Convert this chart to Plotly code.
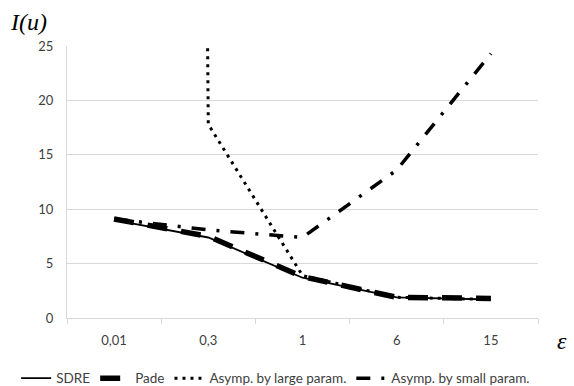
import plotly.graph_objects as go

# Category axis (epsilon values) and the performance index I(u) for each method
eps_labels = ["0,01", "0,3", "1", "6", "15"]
sdre = [9.0, 7.4, 3.7, 1.9, 1.7]
pade = [9.1, 7.5, 3.8, 1.9, 1.8]
asymp_large = [1000.0, 17.8, 3.9, 1.9, 1.7]
asymp_small = [9.1, 8.1, 7.4, 13.6, 24.3]

TXT = "#404040"
GRID = "#d9d9d9"
FONT = "Lato"

fig = go.Figure()

fig.add_trace(go.Scatter(
    x=eps_labels, y=sdre, mode="lines", name="SDRE",
    line=dict(color="black", width=1.8),
))
fig.add_trace(go.Scatter(
    x=eps_labels, y=pade, mode="lines", name="Pade",
    line=dict(color="black", width=5.5, dash="20px,14px"),
))
fig.add_trace(go.Scatter(
    x=eps_labels, y=asymp_large, mode="lines", name="Asymp. by large param.",
    line=dict(color="black", width=3, dash="3px,5px"),
))
fig.add_trace(go.Scatter(
    x=eps_labels, y=asymp_small, mode="lines", name="Asymp. by small param.",
    line=dict(color="black", width=3.5, dash="14px,11px,3px,11px"),
))

fig.update_layout(
    width=574, height=386,
    margin=dict(l=67, r=36, t=46, b=68, autoexpand=False),
    paper_bgcolor="white", plot_bgcolor="white",
    font=dict(family=FONT, size=13, color=TXT),
    showlegend=True,
    legend=dict(
        orientation="h", x=-0.108, xanchor="left", y=-0.165, yanchor="top",
        font=dict(family=FONT, size=13.5, color=TXT),
        itemwidth=30, tracegroupgap=0,
        bgcolor="rgba(0,0,0,0)",
    ),
    xaxis=dict(
        type="category", tickson="boundaries", range=[-0.5, 4.5],
        showgrid=False, showline=True, linecolor=GRID, linewidth=1,
        ticks="outside", ticklen=5, tickcolor=GRID,
        tickfont=dict(family=FONT, size=13, color=TXT),
        ticklabelstandoff=10,
        zeroline=False, fixedrange=True,
    ),
    yaxis=dict(
        range=[0, 25], dtick=5, tick0=0,
        showgrid=True, gridcolor=GRID, gridwidth=1,
        showline=True, linecolor=GRID, linewidth=1,
        zeroline=False, ticks="",
        tickfont=dict(family=FONT, size=13, color=TXT),
        ticklabelstandoff=10,
    ),
    annotations=[
        dict(text="<i>I(u)</i>", xref="paper", yref="paper",
             x=-0.125, y=1.09, xanchor="left", yanchor="middle",
             showarrow=False,
             font=dict(family="Liberation Serif", size=24, color="black")),
        dict(text="<i>ε</i>", xref="paper", yref="paper",
             x=1.05, y=-0.085, xanchor="center", yanchor="middle",
             showarrow=False,
             font=dict(family="Liberation Serif", size=24, color="black")),
    ],
)

fig.write_html("out.html")
